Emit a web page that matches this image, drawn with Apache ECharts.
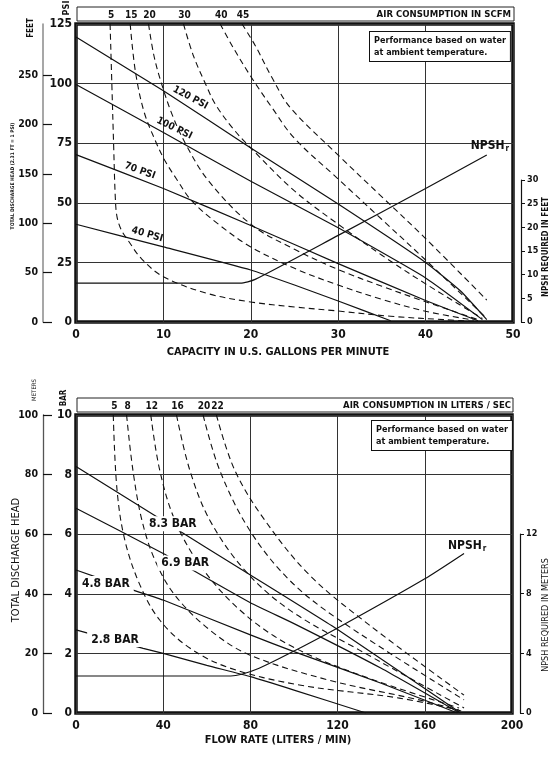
<!DOCTYPE html>
<html><head><meta charset="utf-8">
<script src="https://cdn.jsdelivr.net/npm/echarts@6/dist/echarts.min.js"></script>
<style>html,body{margin:0;padding:0;background:#fff}#c{width:557px;height:758px}</style>
</head><body><div id="c"></div>
<script>
// ---------------- DATA (top chart, US units) ----------------
const feetTicks = [0, 50, 100, 150, 200, 250];
const scfmLabels = ['5', '15', '20', '30', '40', '45'];
const psiLabels = ['120 PSI', '100 PSI', '70 PSI', '40 PSI'];

const psi120 = [[0,119.5],[10,97],[20,73],[30,49.5],[40,25],[44,13],[47,1]];
const psi100 = [[0,99.6],[10,79.5],[20,59],[30,39.5],[40,18.5],[46.5,1]];
const psi70  = [[0,70.2],[10,56],[20,40.5],[30,24.5],[40,9],[46,0.5]];
const psi40  = [[0,41],[10,31.5],[20,21.8],[25,15.5],[30,8.8],[36,0.5]];

const scfm5  = [[3.9,125],[4.1,100],[4.3,75],[4.5,52],[4.7,44],[5.2,38.5],[6,34],[7.5,26.5],[10,19],[15,12],[20,8.4],[25,6.3],[30,4.6],[36,2.4],[42,1],[45.5,0.3]];
const scfm15 = [[6.2,125],[6.8,105],[7.8,88],[9.2,75],[10.2,67.5],[11.5,60],[13.2,51],[16.3,41],[20,31.5],[25,22.5],[30,15.5],[35,9.5],[40,4.5],[45.5,0.8]];
const scfm20 = [[8.3,125],[8.9,112],[9.7,101],[11,87],[12.5,75],[15.1,59.5],[20,41],[25,30.5],[30,22],[35,15],[40,8.5],[46,1]];
const scfm30 = [[12.3,125],[13.4,112],[14.8,100],[16,91],[18,81],[20,73],[25,55],[30,41],[35,28],[40,16],[46.5,1.5]];
const scfm40 = [[16.5,125],[18,115],[20,103],[22.5,89.5],[25,77],[30,60],[35,43],[40,26],[47,1.5]];
const scfm45 = [[19,125],[20.5,116],[22.5,102],[24.5,90],[30,70],[35,52.5],[40,35],[47,9.2]];

const npshFeet = [[0,8.2],[18.8,8.2],[20.5,9],[30,18.3],[40,28.2],[47,35.3]];

// ---------------- DATA (bottom chart, metric units) ----------------
const lpsLabels = ['5', '8', '12', '16', '20', '22'];
const barLabels = ['8.3 BAR', '6.9 BAR', '4.8 BAR', '2.8 BAR'];

const bar83 = [[0,8.27],[40,6.45],[80,4.63],[120,2.8],[176.5,0]];
const bar69 = [[0,6.87],[40,5.35],[80,3.7],[100,3.0],[140,1.5],[176,0]];
const bar48 = [[0,4.8],[26,4.13],[40,3.79],[80,2.62],[100,2.06],[140,1.0],[175,0]];
const bar28 = [[0,2.79],[30.8,2.17],[40,2.0],[60,1.6],[80,1.22],[100,0.77],[133,0]];

const lps5  = [[17.1,10],[18.8,7.5],[22.4,5.8],[29.3,4.3],[38.4,3.12],[52.2,2.18],[70.5,1.51],[102.5,0.94],[148.3,0.5],[175.7,0.1]];
const lps8  = [[23.2,10],[26.1,8.15],[30.2,6.48],[36.2,5.13],[45.3,3.96],[61.3,2.79],[79.6,1.95],[116.2,1.1],[157.4,0.44],[176.7,0.07]];
const lps12 = [[34.3,10],[38.4,8.15],[45.3,6.48],[56.8,4.97],[75.1,3.46],[97.9,2.28],[130,1.28],[175.7,0.17]];
const lps16 = [[46.1,10],[52.2,8.15],[61.3,6.48],[77.3,4.8],[97.9,3.46],[130,2.11],[178,0.17]];
const lps20 = [[58.3,10],[65.9,8.15],[79.6,6.14],[97.9,4.46],[120.8,3.12],[178,0.44]];
const lps22 = [[64.4,10],[72.8,8.15],[86.5,6.48],[107.1,4.63],[134.6,2.95],[178,0.6]];

const npshMeters = [[0,2.48],[71,2.48],[76,2.6],[84,3.0],[98,4.0],[120,5.7],[160,9.0],[178,10.7]];

// ---------------- BUILD ----------------
const FF = "'Liberation Sans Narrow','DejaVu Sans Condensed','Liberation Sans',Arial,sans-serif";
const INK = '#111';
function interp(arr, x) {
  for (let i = 1; i < arr.length; i++) {
    if (x <= arr[i][0]) {
      const a = arr[i-1], b = arr[i];
      return a[1] + (b[1]-a[1]) * (x - a[0]) / (b[0] - a[0]);
    }
  }
  return arr[arr.length-1][1];
}
const topAir = [scfm5, scfm15, scfm20, scfm30, scfm40, scfm45];
const botAir = [lps5, lps8, lps12, lps16, lps20, lps22];
const topTopX = topAir.map(c => c[0][0]);
const botTopX = botAir.map(c => c[0][0]);
function labelFor(list, labels) {
  return v => { const i = list.findIndex(t => Math.abs(t - v) < 1e-6); return i >= 0 ? labels[i] : ''; };
}

const grids = [
  {left: 76, top: 24, width: 437, height: 298, show: true, borderColor: INK, borderWidth: 3.5, backgroundColor: 'transparent'},
  {left: 76, top: 180, width: 437, height: 142, show: false},
  {left: 77, top: 7, width: 437, height: 14, show: true, borderColor: '#222', borderWidth: 1, backgroundColor: 'transparent'},
  {left: 76, top: 415, width: 436, height: 298, show: true, borderColor: INK, borderWidth: 3.5, backgroundColor: 'transparent'},
  {left: 76, top: 534, width: 436, height: 179, show: false},
  {left: 77, top: 398, width: 436, height: 14, show: true, borderColor: '#222', borderWidth: 1, backgroundColor: 'transparent'}
];
const split = {show: true, lineStyle: {color: '#333', width: 1}};
const boldLab = (size, extra) => Object.assign({fontFamily: FF, fontWeight: 'bold', fontSize: size, color: INK}, extra || {});
const noLine = {show: false, onZero: false};

const xAxes = [
  {gridIndex: 0, type: 'value', min: 0, max: 50, interval: 10, axisLine: noLine, axisTick: {show: false}, splitLine: split, axisLabel: boldLab(12, {margin: 7})},
  {gridIndex: 1, type: 'value', min: 0, max: 50, show: false, axisLine: noLine},
  {gridIndex: 2, type: 'value', min: 0, max: 50, axisLine: noLine, axisTick: {show: false}, splitLine: {show: false},
    axisLabel: boldLab(10, {inside: true, margin: 1, customValues: topTopX, formatter: labelFor(topTopX, scfmLabels)})},
  {gridIndex: 3, type: 'value', min: 0, max: 200, interval: 40, axisLine: noLine, axisTick: {show: false}, splitLine: split, axisLabel: boldLab(12, {margin: 7})},
  {gridIndex: 4, type: 'value', min: 0, max: 200, show: false, axisLine: noLine},
  {gridIndex: 5, type: 'value', min: 0, max: 200, axisLine: noLine, axisTick: {show: false}, splitLine: {show: false},
    axisLabel: boldLab(10, {inside: true, margin: 1, customValues: botTopX, formatter: labelFor(botTopX, lpsLabels)})}
];
const yAxes = [
  {gridIndex: 0, type: 'value', min: 0, max: 125, interval: 25, axisLine: noLine, axisTick: {show: false}, splitLine: split, axisLabel: boldLab(12, {margin: 4})},
  {gridIndex: 0, type: 'value', position: 'left', offset: 33, min: 0, max: 302, splitLine: {show: false},
    axisLine: {show: true, onZero: false, lineStyle: {color: '#8a8a8a', width: 1.5}},
    axisTick: {show: true, inside: true, length: 9, customValues: feetTicks, lineStyle: {color: INK, width: 1.2}},
    axisLabel: boldLab(10.5, {margin: 5, customValues: feetTicks})},
  {gridIndex: 1, type: 'value', position: 'right', offset: 8, min: 0, max: 30, interval: 5, splitLine: {show: false},
    axisLine: {show: true, onZero: false, lineStyle: {color: INK, width: 1.2}}, axisTick: {show: true, length: 4, lineStyle: {color: INK}},
    axisLabel: boldLab(9, {margin: 6})},
  {gridIndex: 2, type: 'value', show: false, min: 0, max: 1, axisLine: noLine},
  {gridIndex: 3, type: 'value', min: 0, max: 10, interval: 2, axisLine: noLine, axisTick: {show: false}, splitLine: split, axisLabel: boldLab(12, {margin: 4})},
  {gridIndex: 3, type: 'value', position: 'left', offset: 33, min: 0, max: 100, interval: 20, splitLine: {show: false},
    axisLine: {show: true, onZero: false, lineStyle: {color: '#555', width: 1.3}},
    axisTick: {show: true, inside: true, length: 9, lineStyle: {color: INK, width: 1.2}},
    axisLabel: boldLab(10.5, {margin: 5})},
  {gridIndex: 4, type: 'value', position: 'right', offset: 8, min: 0, max: 12, interval: 4, splitLine: {show: false},
    axisLine: {show: true, onZero: false, lineStyle: {color: INK, width: 1.2}}, axisTick: {show: true, length: 4, lineStyle: {color: INK}},
    axisLabel: boldLab(9, {margin: 6})},
  {gridIndex: 5, type: 'value', show: false, min: 0, max: 1, axisLine: noLine}
];

const series = [];
function solid(data, xi, yi, name, lab) {
  const s = {type: 'line', name: name, data: data, xAxisIndex: xi, yAxisIndex: yi, symbol: 'none', smooth: 0.15,
    lineStyle: {color: INK, width: 1.2}, silent: true, z: 3};
  if (lab) {
    s.markPoint = {symbol: 'rect', symbolSize: 1, itemStyle: {color: 'rgba(0,0,0,0)'}, silent: true,
      data: [{coord: [lab.x, interp(data, lab.x)], name: name}],
      label: Object.assign({show: true, formatter: '{b}', position: 'inside', rotate: lab.rot || 0, offset: lab.off || [0, 0],
        fontFamily: FF, fontWeight: 'bold', fontSize: lab.size, color: INK}, lab.box ? {backgroundColor: '#fff', padding: [2, 4, 1, 4]} : {})};
  }
  series.push(s);
}
function dashed(data, xi, yi) {
  series.push({type: 'line', data: data, xAxisIndex: xi, yAxisIndex: yi, symbol: 'none', smooth: 0.35,
    lineStyle: {color: INK, width: 1.1, type: [6, 4]}, silent: true, z: 2});
}
const npshRich = {a: {fontFamily: FF, fontWeight: 'bold', fontSize: 12, color: INK}, b: {fontFamily: FF, fontWeight: 'bold', fontSize: 8, color: INK, padding: [7, 0, 0, 1]}};
function npsh(data, xi, yi, off) {
  series.push({type: 'line', data: data, xAxisIndex: xi, yAxisIndex: yi, symbol: 'none', smooth: 0.2, clip: false,
    lineStyle: {color: INK, width: 1.2}, silent: true, z: 3,
    endLabel: {show: true, formatter: '{a|NPSH}{b|r}', rich: npshRich, offset: off}});
}

// top chart
solid(psi120, 0, 0, psiLabels[0], {x: 12.6, rot: -28, off: [0, -9], size: 10});
solid(psi100, 0, 0, psiLabels[1], {x: 10.8, rot: -26, off: [0, -9], size: 10});
solid(psi70, 0, 0, psiLabels[2], {x: 7.0, rot: -20, off: [0, -8], size: 10});
solid(psi40, 0, 0, psiLabels[3], {x: 7.9, rot: -16, off: [0, -8], size: 10});
topAir.forEach(c => dashed(c, 0, 0));
npsh(npshFeet, 1, 2, [-24, -9]);

// bottom chart
solid(bar83, 3, 4, barLabels[0], {x: 44.4, off: [0, -3], size: 12, box: true});
solid(bar69, 3, 4, barLabels[1], {x: 50.1, off: [0, -3], size: 12, box: true});
solid(bar48, 3, 4, barLabels[2], {x: 13.7, off: [0, 3], size: 12, box: true});
solid(bar28, 3, 4, barLabels[3], {x: 17.9, off: [0, -1], size: 12, box: true});
botAir.forEach(c => dashed(c, 3, 4));
npsh(npshMeters, 4, 6, [-24, -8]);

function vtext(x, y, text, size, bold) {
  return {type: 'text', x: x, y: y, rotation: Math.PI / 2, silent: true,
    style: {text: text, fill: INK, fontFamily: FF, fontWeight: bold ? 'bold' : 'normal', fontSize: size, align: 'center', verticalAlign: 'middle'}};
}
function htext(x, y, text, size, align) {
  return {type: 'text', x: x, y: y, silent: true,
    style: {text: text, fill: INK, fontFamily: FF, fontWeight: 'bold', fontSize: size, align: align, verticalAlign: 'middle'}};
}
function note(x, y) {
  return {type: 'text', x: x, y: y, silent: true, z: 10,
    style: {text: 'Performance based on water\nat ambient temperature.', fill: INK, fontFamily: FF, fontWeight: 'bold', fontSize: 9,
      lineHeight: 12, align: 'left', verticalAlign: 'top', backgroundColor: '#fff', borderColor: INK, borderWidth: 1, padding: [3, 4, 2, 4]}};
}
const graphic = [
  vtext(66.5, 8, 'PSI', 9, true),
  vtext(30.5, 28, 'FEET', 8, true),
  vtext(13, 176, 'TOTAL DISCHARGE HEAD (2.31 FT = 1 PSI)', 5, true),
  vtext(546, 247, 'NPSH REQUIRED IN FEET', 8, true),
  htext(511, 14.5, 'AIR CONSUMPTION IN SCFM', 9.5, 'right'),
  htext(278, 352, 'CAPACITY IN U.S. GALLONS PER MINUTE', 11, 'center'),
  note(370, 32),
  vtext(63.5, 398, 'BAR', 8, true),
  vtext(34.5, 390, 'METERS', 6, false),
  vtext(16, 560, 'TOTAL DISCHARGE HEAD', 11, false),
  vtext(546, 615, 'NPSH REQUIRED IN METERS', 9, false),
  htext(511, 405.5, 'AIR CONSUMPTION IN LITERS / SEC', 9.5, 'right'),
  htext(278, 740, 'FLOW RATE (LITERS / MIN)', 11, 'center'),
  note(372, 421)
];

const chart = echarts.init(document.getElementById('c'), null, {renderer: 'canvas'});
chart.setOption({animation: false, backgroundColor: '#fff', grid: grids, xAxis: xAxes, yAxis: yAxes, series: series, graphic: graphic});
</script></body></html>
